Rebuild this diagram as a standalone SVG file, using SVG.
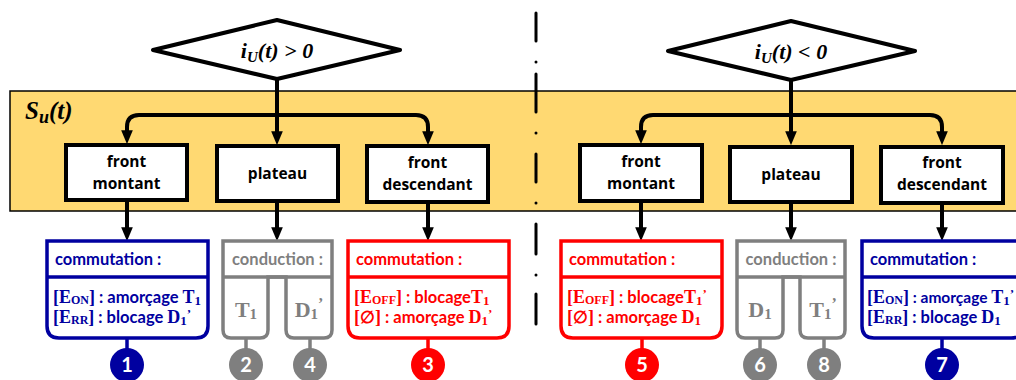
<svg xmlns="http://www.w3.org/2000/svg" width="1016" height="380" viewBox="0 0 1016 380">
<style>
.band{fill:#FFD972;stroke:#000;stroke-width:1.5}
.dia{fill:#fff;stroke:#000;stroke-width:4;stroke-linejoin:round}
.node{fill:#fff;stroke:#000;stroke-width:4}
.con{fill:none;stroke:#000;stroke-width:4}
.ntx{font-family:"Open Sans",Lato,sans-serif;font-weight:bold;font-size:15.5px;fill:#000;text-anchor:middle}
.math{font-family:"Liberation Serif",serif;font-weight:bold;font-style:italic;fill:#000}
.blue{stroke:#0000A0}.red{stroke:#FF0000}.gray{stroke:#7F7F7F}
.bx{fill:#fff;stroke-width:3.5}
.ln{fill:none;stroke-width:3.5}
.hd{font-family:Lato,"Open Sans",sans-serif;font-weight:bold;font-size:16.5px}
.sr{font-family:"Liberation Serif",serif;font-weight:bold}
.sn{font-family:Lato,"Open Sans",sans-serif;font-weight:bold}
.num{font-family:Lato,"Open Sans",sans-serif;font-weight:bold;font-size:20px;fill:#fff;text-anchor:middle}
.fb{fill:#0000A0}.fr{fill:#FF0000}.fg{fill:#7F7F7F}
</style>
<defs>
<marker id="ah" viewBox="0 0 12 10" refX="5" refY="5" markerWidth="14" markerHeight="12" markerUnits="userSpaceOnUse" orient="auto">
<path d="M0,0 L12,5 L0,10 z" fill="#000"/>
</marker>
</defs>

<rect class="band" x="10" y="91" width="1020" height="120"/>
<text class="math" x="25" y="119" font-size="25">S<tspan font-size="18" dy="4">u</tspan><tspan dy="-4">(t)</tspan></text>

<g id="separator" stroke="#000" stroke-width="3" stroke-linecap="round" fill="#000">
<line x1="536" y1="13" x2="536" y2="41"/>
<line x1="536" y1="74" x2="536" y2="112"/>
<line x1="536" y1="154" x2="536" y2="182"/>
<line x1="536" y1="224" x2="536" y2="254"/>
<line x1="536" y1="294" x2="536" y2="324"/>
<circle cx="536" cy="62" r="1.5" stroke="none"/>
<circle cx="536" cy="133" r="1.5" stroke="none"/>
<circle cx="536" cy="203" r="1.5" stroke="none"/>
<circle cx="536" cy="275" r="1.5" stroke="none"/>
</g>

<g id="connectors">
<path class="con" d="M277,79 V137" marker-end="url(#ah)"/>
<path class="con" d="M277,115 H139 Q127,115 127,127 V136" marker-end="url(#ah)"/>
<path class="con" d="M277,115 H416 Q428,115 428,127 V137" marker-end="url(#ah)"/>
<path class="con" d="M127,201 V233" marker-end="url(#ah)"/>
<path class="con" d="M277,202 V233" marker-end="url(#ah)"/>
<path class="con" d="M428,202 V233" marker-end="url(#ah)"/>
<path class="con" d="M791,80 V137" marker-end="url(#ah)"/>
<path class="con" d="M791,115 H653 Q641,115 641,127 V136" marker-end="url(#ah)"/>
<path class="con" d="M791,115 H930 Q942,115 942,127 V137" marker-end="url(#ah)"/>
<path class="con" d="M641,201 V233" marker-end="url(#ah)"/>
<path class="con" d="M791,203 V233" marker-end="url(#ah)"/>
<path class="con" d="M942,203 V233" marker-end="url(#ah)"/>
<g stroke-width="3.5">
<line class="blue" x1="127" y1="338" x2="127" y2="350"/>
<line class="gray" x1="246" y1="338" x2="246" y2="350"/>
<line class="gray" x1="310" y1="338" x2="310" y2="350"/>
<line class="red" x1="428" y1="338" x2="428" y2="350"/>
<line class="red" x1="642" y1="338" x2="642" y2="350"/>
<line class="gray" x1="760" y1="338" x2="760" y2="350"/>
<line class="gray" x1="824" y1="338" x2="824" y2="350"/>
<line class="blue" x1="942" y1="338" x2="942" y2="350"/>
</g>
</g>

<g id="cond-pos">
<polygon class="dia" points="153,50 277,20 400,50 277,79"/>
<text class="math" x="277" y="58" font-size="22" text-anchor="middle">i<tspan font-size="15" dy="4">U</tspan><tspan dy="-4">(t) &gt; 0</tspan></text>
</g>
<g id="cond-neg">
<polygon class="dia" points="668,51 791,21 915,51 791,80"/>
<text class="math" x="791" y="59" font-size="22" text-anchor="middle">i<tspan font-size="15" dy="4">U</tspan><tspan dy="-4">(t) &lt; 0</tspan></text>
</g>

<g id="fm1"><rect class="node" x="66" y="145" width="121" height="55"/>
<text class="ntx" x="126.5" y="167">front</text><text class="ntx" x="126.5" y="189">montant</text></g>
<g id="pl1"><rect class="node" x="217" y="146" width="121" height="55"/>
<text class="ntx" x="277.5" y="179">plateau</text></g>
<g id="fd1"><rect class="node" x="367" y="146" width="121" height="56"/>
<text class="ntx" x="427.5" y="168">front</text><text class="ntx" x="427.5" y="190">descendant</text></g>
<g id="fm2"><rect class="node" x="580" y="145" width="122" height="56"/>
<text class="ntx" x="641" y="167">front</text><text class="ntx" x="641" y="189">montant</text></g>
<g id="pl2"><rect class="node" x="730" y="147" width="122" height="55"/>
<text class="ntx" x="791" y="180">plateau</text></g>
<g id="fd2"><rect class="node" x="881" y="147" width="122" height="56"/>
<text class="ntx" x="942" y="168">front</text><text class="ntx" x="942" y="190">descendant</text></g>

<g id="sw1">
<path class="bx blue" d="M47,241 H208 V326 Q208,338 196,338 H59 Q47,338 47,326 Z"/>
<line class="ln blue" x1="47" y1="277" x2="208" y2="277"/>
<text class="hd fb" x="55" y="265">commutation :</text>
<text class="fb" x="53" y="303"><tspan class="sr" font-size="18">[E</tspan><tspan class="sr" font-size="12" dy="1">ON</tspan><tspan class="sr" font-size="18" dy="-1">]</tspan><tspan class="sn" font-size="16.5"> : amorçage </tspan><tspan class="sr" font-size="18">T</tspan><tspan class="sr" font-size="13" dy="2">1</tspan></text>
<text class="fb" x="53" y="323"><tspan class="sr" font-size="18">[E</tspan><tspan class="sr" font-size="12" dy="1">RR</tspan><tspan class="sr" font-size="18" dy="-1">]</tspan><tspan class="sn" font-size="16.5"> : blocage </tspan><tspan class="sr" font-size="18">D</tspan><tspan class="sr" font-size="13" dy="2">1</tspan><tspan class="sr" font-size="13" dy="-7">’</tspan></text>
<circle cx="127" cy="365" r="17" class="fb"/><text class="num" x="127" y="372">1</text>
</g>

<g id="cd1">
<path class="bx gray" d="M223,241 H332 V330 Q332,338 324,338 H294 Q286,338 286,330 V277 H268 V330 Q268,338 260,338 H231 Q223,338 223,330 Z"/>
<line class="ln gray" x1="223" y1="277" x2="332" y2="277"/>
<text class="hd fg" x="277.5" y="265" text-anchor="middle">conduction :</text>
<text class="sr fg" x="246" y="317" font-size="22" text-anchor="middle">T<tspan font-size="15" dy="2">1</tspan></text>
<text class="sr fg" x="309" y="317" font-size="22" text-anchor="middle">D<tspan font-size="15" dy="2">1</tspan><tspan font-size="16" dy="-10">’</tspan></text>
<circle cx="246" cy="365" r="17" class="fg"/><text class="num" x="246" y="372">2</text>
<circle cx="310" cy="365" r="17" class="fg"/><text class="num" x="310" y="372">4</text>
</g>

<g id="sw3">
<path class="bx red" d="M348,241 H509 V326 Q509,338 497,338 H360 Q348,338 348,326 Z"/>
<line class="ln red" x1="348" y1="277" x2="509" y2="277"/>
<text class="hd fr" x="356" y="265">commutation :</text>
<text class="fr" x="354" y="303"><tspan class="sr" font-size="18">[E</tspan><tspan class="sr" font-size="12" dy="1">OFF</tspan><tspan class="sr" font-size="18" dy="-1">]</tspan><tspan class="sn" font-size="16.5"> : blocage</tspan><tspan class="sr" font-size="18">T</tspan><tspan class="sr" font-size="13" dy="2">1</tspan></text>
<text class="fr" x="354" y="323"><tspan class="sr" font-size="18">[</tspan><tspan class="sn" font-size="17">∅</tspan><tspan class="sr" font-size="18">]</tspan><tspan class="sn" font-size="16.5"> : amorçage </tspan><tspan class="sr" font-size="18">D</tspan><tspan class="sr" font-size="13" dy="2">1</tspan><tspan class="sr" font-size="13" dy="-7">’</tspan></text>
<circle cx="428" cy="365" r="17" class="fr"/><text class="num" x="428" y="372">3</text>
</g>

<g id="sw5">
<path class="bx red" d="M561,241 H722 V326 Q722,338 710,338 H573 Q561,338 561,326 Z"/>
<line class="ln red" x1="561" y1="277" x2="722" y2="277"/>
<text class="hd fr" x="569" y="265">commutation :</text>
<text class="fr" x="567" y="303"><tspan class="sr" font-size="18">[E</tspan><tspan class="sr" font-size="12" dy="1">OFF</tspan><tspan class="sr" font-size="18" dy="-1">]</tspan><tspan class="sn" font-size="16.5"> : blocage</tspan><tspan class="sr" font-size="18">T</tspan><tspan class="sr" font-size="13" dy="2">1</tspan><tspan class="sr" font-size="13" dy="-7">’</tspan></text>
<text class="fr" x="567" y="323"><tspan class="sr" font-size="18">[</tspan><tspan class="sn" font-size="17">∅</tspan><tspan class="sr" font-size="18">]</tspan><tspan class="sn" font-size="16.5"> : amorçage </tspan><tspan class="sr" font-size="18">D</tspan><tspan class="sr" font-size="13" dy="2">1</tspan></text>
<circle cx="642" cy="365" r="17" class="fr"/><text class="num" x="642" y="372">5</text>
</g>

<g id="cd2">
<path class="bx gray" d="M737,241 H845 V330 Q845,338 837,338 H808 Q800,338 800,330 V277 H783 V330 Q783,338 775,338 H745 Q737,338 737,330 Z"/>
<line class="ln gray" x1="737" y1="277" x2="845" y2="277"/>
<text class="hd fg" x="791" y="265" text-anchor="middle">conduction :</text>
<text class="sr fg" x="760" y="317" font-size="22" text-anchor="middle">D<tspan font-size="15" dy="2">1</tspan></text>
<text class="sr fg" x="823" y="317" font-size="22" text-anchor="middle">T<tspan font-size="15" dy="2">1</tspan><tspan font-size="16" dy="-10">’</tspan></text>
<circle cx="760" cy="365" r="17" class="fg"/><text class="num" x="760" y="372">6</text>
<circle cx="824" cy="365" r="17" class="fg"/><text class="num" x="824" y="372">8</text>
</g>

<g id="sw7">
<path class="bx blue" d="M862,241 H1023 V326 Q1023,338 1011,338 H874 Q862,338 862,326 Z"/>
<line class="ln blue" x1="862" y1="277" x2="1023" y2="277"/>
<text class="hd fb" x="870" y="265">commutation :</text>
<text class="fb" x="867" y="303"><tspan class="sr" font-size="18">[E</tspan><tspan class="sr" font-size="12" dy="1">ON</tspan><tspan class="sr" font-size="18" dy="-1">]</tspan><tspan class="sn" font-size="15.5"> : amorçage </tspan><tspan class="sr" font-size="18">T</tspan><tspan class="sr" font-size="13" dy="2">1</tspan><tspan class="sr" font-size="13" dy="-7">’</tspan></text>
<text class="fb" x="867" y="323"><tspan class="sr" font-size="18">[E</tspan><tspan class="sr" font-size="12" dy="1">RR</tspan><tspan class="sr" font-size="18" dy="-1">]</tspan><tspan class="sn" font-size="16.5"> : blocage </tspan><tspan class="sr" font-size="18">D</tspan><tspan class="sr" font-size="13" dy="2">1</tspan></text>
<circle cx="942" cy="365" r="17" class="fb"/><text class="num" x="942" y="372">7</text>
</g>
</svg>
